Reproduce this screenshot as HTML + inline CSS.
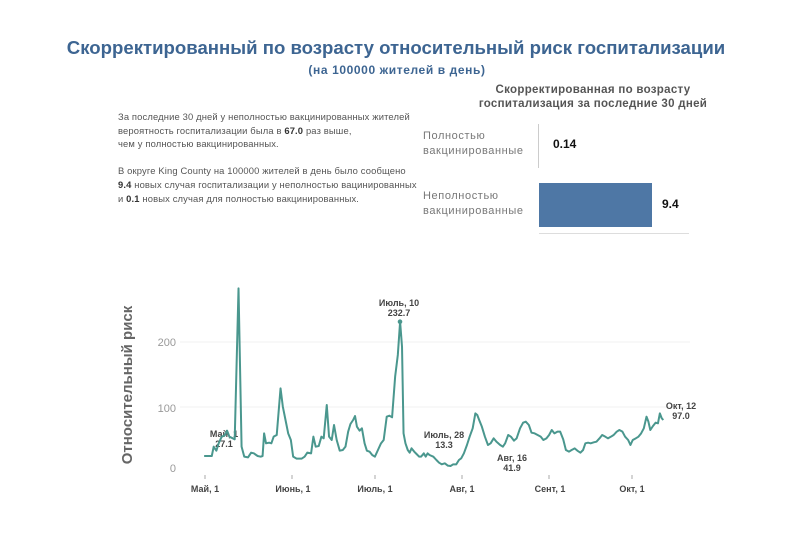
<!DOCTYPE html>
<html><head><meta charset="utf-8"><style>
body{margin:0;width:800px;height:539px;background:#fff;font-family:"Liberation Sans","DejaVu Sans",sans-serif;position:relative;overflow:hidden}
.a{position:absolute}
</style></head><body>
<div class="a" style="left:0;width:792px;top:37px;text-align:center;font-size:18.6px;font-weight:bold;color:#3d6592">Скорректированный по возрасту относительный риск госпитализации</div>
<div class="a" style="left:0;width:794px;top:63px;text-align:center;font-size:12px;font-weight:bold;color:#3d6592;letter-spacing:0.6px">(на 100000 жителей в день)</div>
<div class="a" style="left:118px;top:110px;font-size:9.4px;line-height:13.6px;color:#555;letter-spacing:0.15px">За последние 30 дней у неполностью вакцинированных жителей<br>вероятность госпитализации была в <b style="color:#333">67.0</b> раз выше,<br>чем у полностью вакцинированных.<br><br>В округе King County на 100000 жителей в день было сообщено<br><b style="color:#333">9.4</b> новых случая госпитализации у неполностью вацинированных<br>и <b style="color:#333">0.1</b> новых случая для полностью вакцинированных.</div>
<div class="a" style="left:463px;top:83px;width:260px;text-align:center;font-size:11.5px;font-weight:bold;color:#555;line-height:14px;letter-spacing:0.3px">Скорректированная по возрасту<br>госпитализация за последние 30 дней</div>
<div class="a" style="left:423px;top:129px;font-size:11px;color:#777;line-height:15px;letter-spacing:0.6px">Полностью<br>вакцинированные</div>
<div class="a" style="left:423px;top:189px;font-size:11px;color:#777;line-height:15px;letter-spacing:0.6px">Неполностью<br>вакцинированные</div>
<div class="a" style="left:538px;top:124px;width:1px;height:44px;background:#ccc"></div>
<div class="a" style="left:553px;top:137px;font-size:12px;font-weight:bold;color:#111">0.14</div>
<div class="a" style="left:539px;top:183px;width:113px;height:44px;background:#4e77a5"></div>
<div class="a" style="left:539px;top:233px;width:150px;height:1px;background:#ddd"></div>
<div class="a" style="left:662px;top:197px;font-size:12px;font-weight:bold;color:#111">9.4</div>
<svg class="a" style="left:0;top:0" width="800" height="539">
<line x1="180" y1="342" x2="690" y2="342" stroke="#f0f0f0"/>
<line x1="180" y1="407" x2="690" y2="407" stroke="#f0f0f0"/>
<text transform="translate(132,385) rotate(-90)" text-anchor="middle" font-size="15" font-weight="bold" fill="#666">Относительный риск</text>
<g font-size="11" fill="#999" text-anchor="end"><text x="176" y="346">200</text><text x="176" y="412">100</text><text x="176" y="472">0</text></g>
<g stroke="#aaa"><line x1="205" y1="475" x2="205" y2="479"/><line x1="292" y1="475" x2="292" y2="479"/><line x1="375" y1="475" x2="375" y2="479"/><line x1="462" y1="475" x2="462" y2="479"/><line x1="549" y1="475" x2="549" y2="479"/><line x1="632" y1="475" x2="632" y2="479"/></g>
<g font-size="9" font-weight="bold" fill="#444" text-anchor="middle"><text x="205" y="492">Май, 1</text><text x="293" y="492">Июнь, 1</text><text x="375" y="492">Июль, 1</text><text x="462" y="492">Авг, 1</text><text x="550" y="492">Сент, 1</text><text x="632" y="492">Окт, 1</text>
<text x="224" y="437">Май, 1</text><text x="224" y="447">27.1</text>
<text x="399" y="306">Июль, 10</text><text x="399" y="316">232.7</text>
<text x="444" y="438">Июль, 28</text><text x="444" y="448">13.3</text>
<text x="512" y="461">Авг, 16</text><text x="512" y="471">41.9</text>
<text x="681" y="409">Окт, 12</text><text x="681" y="419">97.0</text></g>
<g transform="translate(101,280) scale(0.382,0.33333)">
<polyline fill="none" stroke="#4a978e" stroke-width="2" vector-effect="non-scaling-stroke" stroke-linejoin="round" points="270,528 290,528 295,500 302,512 308,490 316,470 324,466 330,452 336,470 345,475 350,478 360,25 368,500 375,530 385,532 393,518 400,520 410,528 418,530 423,528 427,460 432,490 440,488 446,490 452,470 460,465 470,325 476,380 483,420 490,460 497,480 503,530 512,536 525,536 533,530 540,518 550,520 556,470 562,500 570,498 577,470 583,475 591,375 597,470 604,480 610,435 617,480 625,512 633,510 640,500 647,455 653,432 660,420 665,408 670,440 677,452 683,445 690,490 696,512 703,515 710,525 717,530 725,510 733,490 740,480 748,410 755,407 762,412 770,290 777,225 783,125 788,200 792,460 797,490 803,510 808,518 813,505 820,515 826,522 833,530 838,530 845,520 850,530 855,520 860,525 870,530 878,540 885,548 892,553 900,550 908,557 915,558 922,553 930,553 937,540 943,535 950,520 958,495 965,470 973,445 980,400 985,405 990,420 997,440 1005,470 1013,495 1020,490 1028,475 1035,485 1045,495 1052,500 1058,490 1066,465 1073,470 1081,482 1088,475 1097,445 1105,428 1112,425 1120,435 1127,458 1135,460 1143,465 1151,470 1158,480 1166,475 1173,465 1180,450 1187,460 1195,455 1202,455 1210,478 1217,510 1225,515 1232,510 1240,505 1247,512 1255,518 1262,510 1268,490 1275,488 1282,490 1290,487 1297,485 1305,475 1312,465 1320,470 1327,475 1335,470 1342,465 1350,455 1357,450 1365,455 1372,470 1380,480 1386,495 1392,480 1400,475 1407,470 1414,460 1421,445 1428,410 1433,425 1438,450 1445,438 1452,428 1458,430 1463,400 1468,415 1472,420"/>
</g>
<circle cx="400" cy="321.7" r="2.3" fill="#4a978e"/>
</svg>
</body></html>
